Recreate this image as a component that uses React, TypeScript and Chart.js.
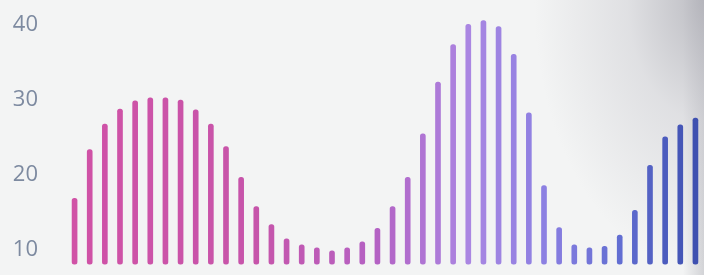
import React, { useEffect, useRef } from "react";
import { Chart, registerables } from "chart.js";

Chart.register(...registerables);

const categories: string[] = Array.from({ length: 42 }, (_, i) => String(i + 1));
const values: number[] = [
  16.9, 23.4, 26.8, 28.8, 29.9, 30.3, 30.3, 30.0, 28.7, 26.8, 23.8, 19.7,
  15.8, 13.4, 11.5, 10.7, 10.3, 9.9, 10.3, 11.1, 12.9, 15.8, 19.7, 25.5,
  32.4, 37.4, 40.1, 40.6, 39.8, 36.1, 28.3, 18.6, 13.0, 10.7, 10.3, 10.5,
  12.0, 15.3, 21.3, 25.1, 26.7, 27.6,
];
const tickValues: number[] = [10, 20, 30, 40];
const barBase = 8.1;

// colour stops: [index, r, g, b]
const colorStops: number[][] = [
  [0, 208, 82, 166],
  [12, 198, 84, 170],
  [20, 180, 98, 196],
  [26, 170, 134, 226],
  [31, 140, 128, 226],
  [36, 98, 110, 210],
  [41, 62, 80, 176],
];

function colorAt(i: number): string {
  for (let k = 0; k < colorStops.length - 1; k++) {
    const a = colorStops[k];
    const b = colorStops[k + 1];
    if (i >= a[0] && i <= b[0]) {
      const t = (i - a[0]) / (b[0] - a[0]);
      const r = Math.round(a[1] + (b[1] - a[1]) * t);
      const g = Math.round(a[2] + (b[2] - a[2]) * t);
      const bl = Math.round(a[3] + (b[3] - a[3]) * t);
      return `rgb(${r},${g},${bl})`;
    }
  }
  const l = colorStops[colorStops.length - 1];
  return `rgb(${l[1]},${l[2]},${l[3]})`;
}

export default function App() {
  const ref = useRef<HTMLCanvasElement | null>(null);

  useEffect(() => {
    document.body.style.margin = "0";
    if (!ref.current) return;
    const chart = new Chart(ref.current, {
      type: "bar",
      data: {
        labels: categories,
        datasets: [
          {
            data: values,
            base: barBase,
            backgroundColor: values.map((_, i) => colorAt(i)),
            barThickness: 5,
            borderRadius: 3,
            borderSkipped: false,
          } as any,
        ],
      },
      options: {
        animation: false,
        responsive: false,
        maintainAspectRatio: false,
        layout: { padding: { left: 0, right: 1, top: 0, bottom: 0 } },
        plugins: { legend: { display: false }, tooltip: { enabled: false } },
        scales: {
          x: { display: false, offset: true },
          y: {
            min: 6.67,
            max: 43.33,
            grid: { display: false },
            border: { display: false },
            afterFit: (axis: any) => {
              axis.width = 67;
              axis.paddingTop = 0;
              axis.paddingBottom = 0;
            },
            afterBuildTicks: (axis: any) => {
              axis.ticks = tickValues.map((v) => ({ value: v }));
            },
            ticks: {
              padding: 21,
              color: "#7d8aa0",
              font: { family: "Open Sans", size: 22 },
            },
          },
        },
      },
    });
    return () => chart.destroy();
  }, []);

  return (
    <div
      style={{
        position: "absolute",
        left: 0,
        top: 0,
        width: 704,
        height: 275,
        background:
          "radial-gradient(ellipse 170px 270px at 100% 0%, rgba(170,170,178,0.75) 0%, rgba(200,200,206,0.45) 45%, rgba(243,244,244,0) 100%), linear-gradient(to right, rgba(0,0,0,0) 0%, rgba(0,0,0,0) 97%, rgba(150,150,160,0.35) 100%), #f3f4f4",
      }}
    >
      <canvas ref={ref} width={704} height={275} style={{ display: "block" }} />
    </div>
  );
}
